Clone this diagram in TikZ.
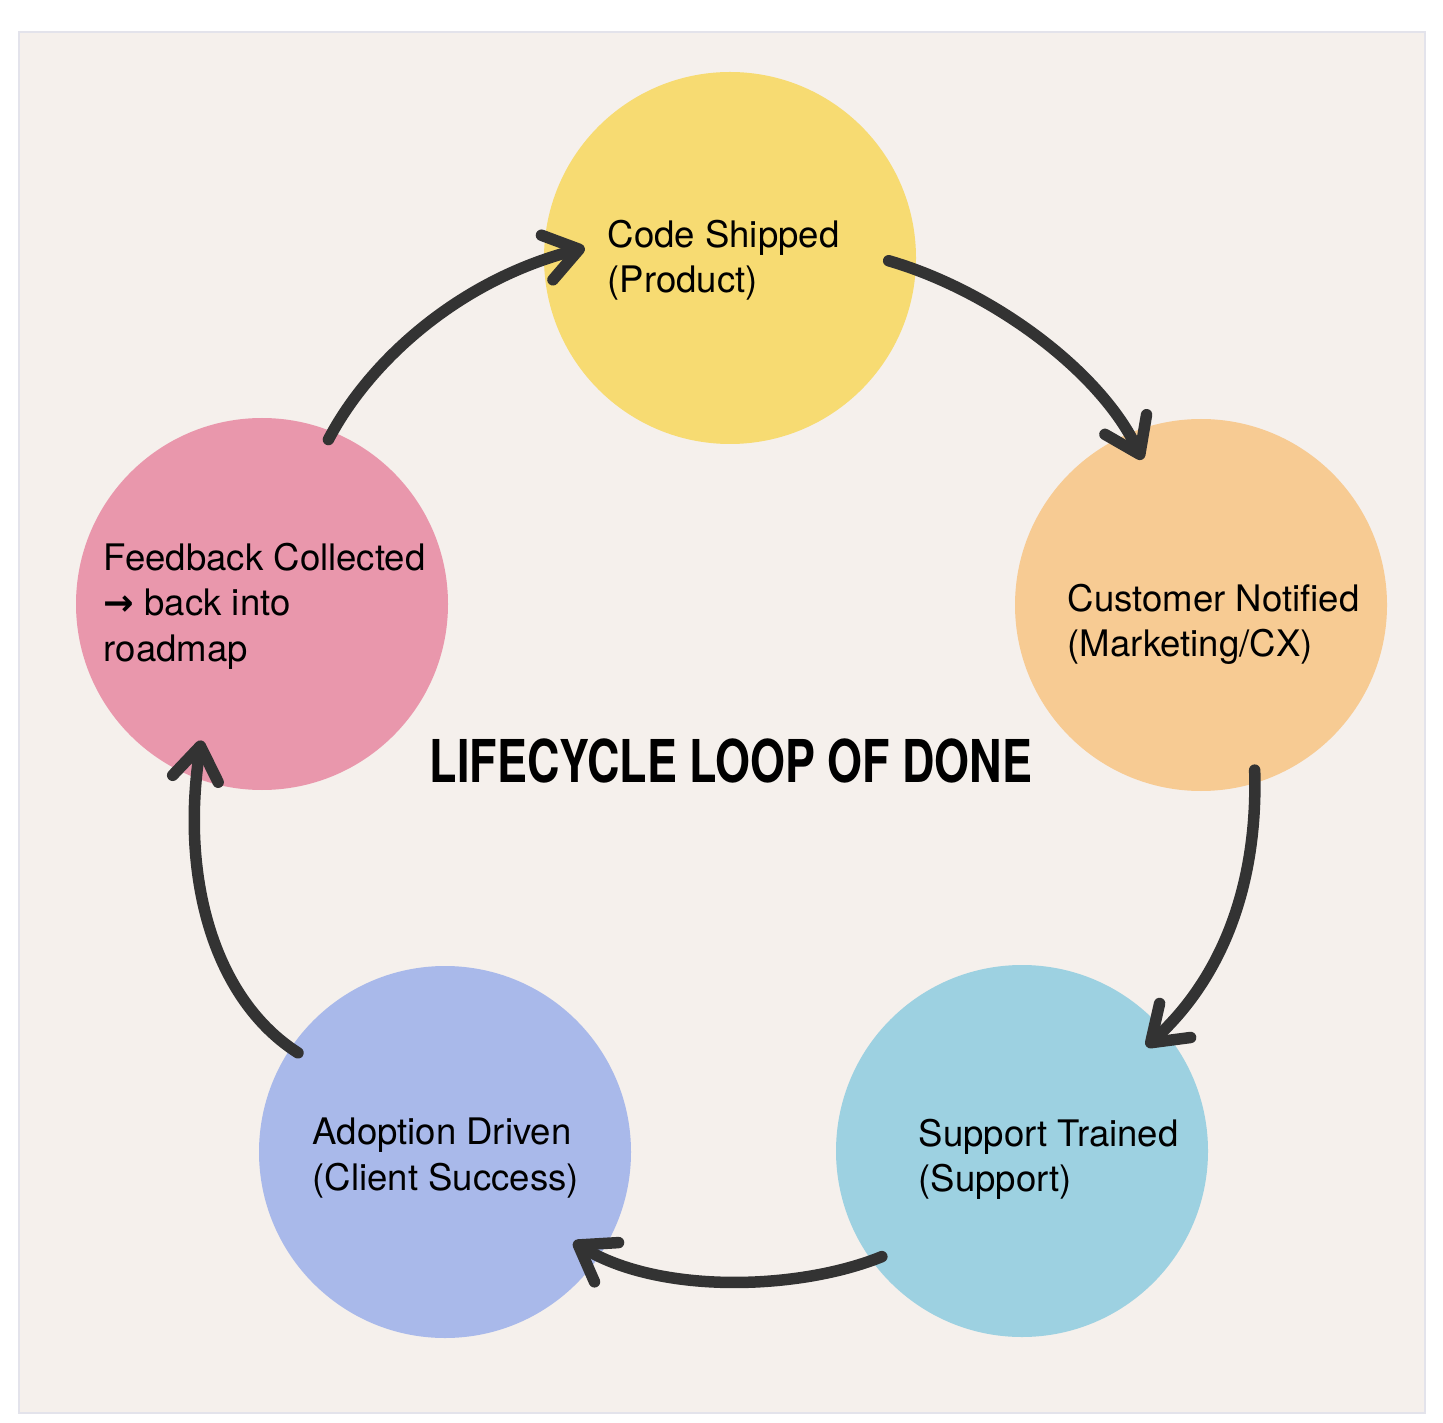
\documentclass[tikz,border=0pt]{standalone}
\usepackage{fontspec}
\setmainfont{TeX Gyre Heros}
\newfontfamily\titlefont[FakeStretch=0.76]{TeX Gyre Heros}
\newfontfamily\symfont{DejaVu Sans}
\usetikzlibrary{arrows.meta,calc}
\definecolor{bgpaper}{HTML}{F5F0EC}
\definecolor{bgrim}{HTML}{E3E3EB}
\definecolor{arrowink}{HTML}{333333}
\definecolor{cyellow}{HTML}{F7DB72}
\definecolor{corange}{HTML}{F7CB93}
\definecolor{cblue}{HTML}{9DD1E1}
\definecolor{cpurple}{HTML}{A9B9EA}
\definecolor{cpink}{HTML}{E997AC}
\begin{document}
\begin{tikzpicture}[x=0.1mm, y=-0.1mm,
  blob/.style={circle, minimum size=37.2mm, inner sep=0pt},
  lbl/.style={anchor=north west, align=left, inner sep=0pt, font=\fontsize{10.4}{13}\selectfont},
  loop/.style={draw=arrowink, line width=1.15mm, line cap=round, -{Straight Barb[length=3.3mm,width=4.6mm,round]}}]
\useasboundingbox (0,0) rectangle (1443,1423);
\draw[bgrim, fill=bgpaper, line width=0.2mm] (19,32) rectangle (1425,1413);
% the five stages
\node[blob, fill=cyellow] (shipped) at (730,258) {};
\node[blob, fill=corange] (notified) at (1201,605) {};
\node[blob, fill=cblue] (trained) at (1022,1151) {};
\node[blob, fill=cpurple] (adoption) at (445,1152) {};
\node[blob, fill=cpink] (feedback) at (262,604) {};
\node[lbl] (shippedtxt) at (607,219) {Code Shipped\\(Product)};
\node[lbl] (notifiedtxt) at (1067,583) {Customer Notified\\(Marketing/CX)};
\node[lbl] (trainedtxt) at (918,1118) {Support Trained\\(Support)};
\node[lbl] (adoptiontxt) at (312,1117) {Adoption Driven\\(Client Success)};
\node[lbl] (feedbacktxt) at (103,542) {Feedback Collected\\{\symfont\bfseries →} back into\\roadmap};
\node[font=\titlefont\bfseries\fontsize{16.8}{20}\selectfont] (title) at (731,761) {LIFECYCLE LOOP OF DONE};
% the loop
\draw[loop] ($(shipped)!0.85!(shipped.-1.5)$) .. controls (990,290) and (1100,370) .. ($(notified)!0.84!(notified.112)$);
\draw[loop] ($(notified)!0.93!(notified.-72.8)$) .. controls (1258,880) and (1225,975) .. ($(trained)!0.87!(trained.40.2)$);
\draw[loop] ($(trained)!0.94!(trained.217.1)$) .. controls (800,1290) and (660,1295) .. ($(adoption)!0.84!(adoption.-35.4)$);
\draw[loop] ($(adoption)!0.95!(adoption.146.8)$) .. controls (215,1000) and (180,880) .. ($(feedback)!0.8!(feedback.246.7)$);
\draw[loop] ($(feedback)!0.95!(feedback.68.1)$) .. controls (370,360) and (460,280) .. ($(shipped)!0.78!(shipped.176)$);
\end{tikzpicture}
\end{document}
